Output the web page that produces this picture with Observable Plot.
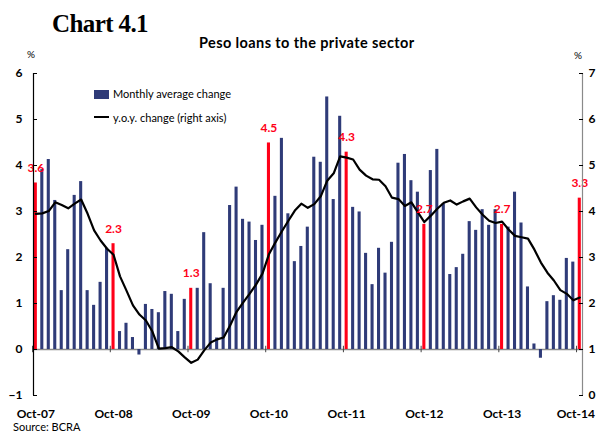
<!DOCTYPE html>
<html><head><meta charset="utf-8">
<script src="https://cdn.jsdelivr.net/npm/d3@7"></script>
<script src="https://cdn.jsdelivr.net/npm/@observablehq/plot@0.6"></script>
<style>
body{margin:0;background:#fff;}
#wrap{position:relative;width:596px;height:432px;overflow:hidden;font-family:Lato,sans-serif;color:#000;}
.abs{position:absolute;white-space:nowrap;line-height:1.2;}
#chart{position:absolute;left:0;top:0;}
#chart svg text{font-family:Lato,sans-serif;}
#chart g[aria-label="y-axis tick label"] text,#chart g[aria-label="x-axis tick label"] text{font-weight:bold;font-size:12px;}
</style></head><body>
<div id="wrap">
  <div id="chart"></div>
  <div class="abs" style="left:52px;top:11px;font:bold 25px 'Liberation Serif',serif;letter-spacing:-0.6px;line-height:26px;">Chart 4.1</div>
  <div class="abs" style="left:199px;top:34px;font-weight:bold;font-size:14.5px;letter-spacing:0.4px;">Peso loans to the private sector</div>
  <div class="abs" style="left:27px;top:48px;font-size:10px;">%</div>
  <div class="abs" style="left:574px;top:49px;font-size:10px;">%</div>
  <div class="abs" style="left:94px;top:90px;width:15px;height:9px;background:#2f3b78;"></div>
  <div class="abs" style="left:113px;top:87px;font-size:11px;">Monthly average change</div>
  <div class="abs" style="left:94px;top:116.3px;width:15px;height:2px;background:#000;"></div>
  <div class="abs" style="left:113px;top:110.5px;font-size:11px;">y.o.y. change (right axis)</div>
  <div class="abs" style="left:13px;top:420px;font-size:11px;">Source: BCRA</div>
</div>
<script>
// Monthly average change (%), Oct-07 .. Oct-14 (left axis)
const monthlyChange = [
  3.62, 3.91, 4.13, 3.24, 1.28, 2.17, 3.35, 3.65, 1.28, 0.96, 1.46, 2.2,
  2.3, 0.39, 0.57, 0.26, -0.12, 0.98, 0.87, 0.8, 1.26, 1.2, 0.39, 1.09,
  1.33, 1.33, 2.54, 1.43, 0.25, 1.33, 3.13, 3.53, 2.83, 2.77, 2.37, 2.7,
  4.49, 3.33, 4.59, 2.95, 1.91, 2.24, 2.66, 4.18, 4.07, 5.49, 3.26, 5.07,
  4.29, 3.09, 2.99, 2.09, 1.41, 2.2, 1.66, 2.33, 4.05, 4.24, 3.67, 3.42,
  2.72, 3.89, 4.35, 3.17, 1.63, 1.78, 2.07, 2.78, 2.59, 3.04, 2.7, 3.04,
  2.72, 2.66, 3.42, 2.75, 1.36, 0.12, -0.19, 1.04, 1.17, 1.07, 1.98, 1.9,
  3.29
];
// y.o.y. change (%), right axis
const yoyChange = [
  3.95, 3.96, 4.01, 4.2, 4.14, 4.07, 4.17, 4.26, 3.95, 3.59, 3.37, 3.19,
  3.06, 2.59, 2.28, 1.96, 1.76, 1.63, 1.39, 1.02, 1.03, 1.05, 0.96, 0.83,
  0.71, 0.78, 0.98, 1.15, 1.22, 1.26, 1.52, 1.82, 2.02, 2.21, 2.41, 2.65,
  3.07, 3.33, 3.57, 3.8, 4.02, 4.17, 4.08, 4.16, 4.33, 4.67, 4.83, 5.2,
  5.17, 5.13, 4.91, 4.78, 4.7, 4.69, 4.55, 4.3, 4.27, 4.12, 4.2, 3.98,
  3.77, 3.91, 4.06, 4.19, 4.24, 4.15, 4.22, 4.28, 4.09, 3.93, 3.8, 3.75,
  3.78, 3.61, 3.47, 3.44, 3.41, 3.17, 2.89, 2.67, 2.5, 2.29, 2.21, 2.07,
  2.13
];
const xTickLabels = ["Oct-07","Oct-08","Oct-09","Oct-10","Oct-11","Oct-12","Oct-13","Oct-14"];
const leftTicks = [-1, 0, 1, 2, 3, 4, 5, 6];

const months = d3.utcMonths(new Date(Date.UTC(2007, 9, 1)), new Date(Date.UTC(2014, 10, 1))).map(d3.utcFormat("%b-%y"));
const rows = months.map((m, i) => ({i, month: m, change: monthlyChange[i], yoy: yoyChange[i], oct: m.startsWith("Oct")}));
const tickIdx = xTickLabels.map(l => months.indexOf(l));

const NAVY = "#2f3b78", RED = "#ff0018";
const xDomain = [-0.36, 84.42];

const chart = Plot.plot({
  width: 596, height: 432,
  marginLeft: 33, marginRight: 14, marginTop: 73, marginBottom: 37,
  style: {fontFamily: "Lato, sans-serif", fontSize: "12px", background: "transparent"},
  x: {type: "linear", domain: xDomain, label: null},
  y: {domain: [-1, 6], label: null},
  marks: [
    Plot.ruleY([0], {stroke: "#8a8a8a", strokeWidth: 1.3}),
    Plot.rectY(rows.filter(d => !d.oct), {x1: d => d.i - 0.5, x2: d => d.i + 0.5, y1: 0, y2: "change", fill: NAVY, insetLeft: 1.7, insetRight: 1.7}),
    Plot.rectY(rows.filter(d => d.oct), {x1: d => d.i - 0.5, x2: d => d.i + 0.5, y1: 0, y2: "change", fill: RED, insetLeft: 1.7, insetRight: 1.7}),
    Plot.ruleX(tickIdx, {x: d => d - 0.5, y1: -0.07, y2: 0.07, stroke: "#444"}),
    Plot.line(rows, {x: "i", y: d => d.yoy - 1, stroke: "#000", strokeWidth: 2.2, strokeLinejoin: "round"}),
    Plot.text(rows.filter(d => d.oct), {x: "i", y: "change", text: d => d.change.toFixed(1), dy: -15, fill: RED, fontWeight: "bold", fontSize: 12}),
    Plot.ruleX([xDomain[0]], {stroke: "#000", strokeWidth: 1.2}),
    Plot.ruleX([xDomain[1]], {stroke: "#8a8a8a", strokeWidth: 1.2}),
    Plot.axisY(leftTicks, {anchor: "left", tickSize: -4, tickPadding: 15, stroke: "#000"}),
    Plot.axisY(leftTicks, {anchor: "right", tickSize: -4, tickPadding: 10, tickFormat: d => String(d + 1)}),
    Plot.axisX(tickIdx.slice(0, -1), {anchor: "bottom", tickSize: 0, tickPadding: 14, tickFormat: i => months[i]}),
    Plot.axisX(tickIdx.slice(-1), {anchor: "bottom", tickSize: 0, tickPadding: 14, dx: -4, tickFormat: i => months[i]})
  ]
});
document.getElementById("chart").appendChild(chart);
</script>
</body></html>
